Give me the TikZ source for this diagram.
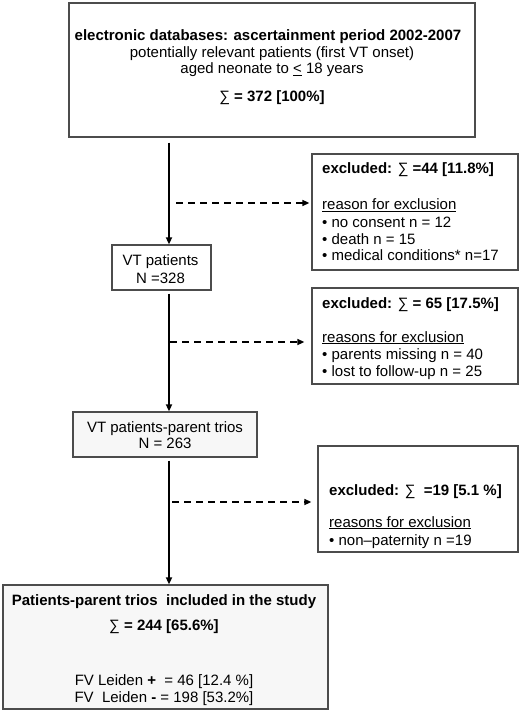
\documentclass[tikz,border=0pt]{standalone}
\usepackage{fontspec}
\setmainfont{Liberation Sans}
\usetikzlibrary{arrows.meta}
\newcommand{\sgm}{{\mdseries ∑}}
\begin{document}
\begin{tikzpicture}[x=1pt,y=-1pt,
  box/.style={draw=black!70,line width=1.3pt,fill=#1,inner sep=0pt},
  box/.default=white,
  txt/.style={inner sep=0pt,font=\fontsize{15}{17}\selectfont},
  mainarr/.style={line width=1.8pt,-{Triangle[length=7pt,width=6pt]}},
  dasharr/.style={line width=1.5pt,dash pattern=on 7pt off 5pt,-{Triangle[length=7pt,width=6pt]}}]
\useasboundingbox (0,0) rectangle (520,711);
% boxes
\node[box, minimum width=406pt, minimum height=134pt] (top) at (272,70) {};
\node[box, minimum width=206pt, minimum height=116pt] (ex1) at (415,212) {};
\node[box, minimum width=206pt, minimum height=96pt] (ex2) at (415,336) {};
\node[box, minimum width=200pt, minimum height=106pt] (ex3) at (418,499) {};
\node[box, minimum width=99pt, minimum height=45pt] (vtp) at (161.5,267.5) {};
\node[box=gray!6, minimum width=184pt, minimum height=45pt] (trio) at (165,434.5) {};
\node[box=gray!6, minimum width=325pt, minimum height=124pt] (fin) at (165.5,647) {};
% top texts
\node[txt, anchor=base] (t1) at (268,41) {\bfseries electronic databases: ascertainment period 2002-2007};
\node[txt, anchor=base] (t2) at (272,58) {potentially relevant patients (first VT onset)};
\node[txt, anchor=base] (t3) at (272,74) {aged neonate to \underline{<} 18 years};
\node[txt, anchor=base] (t4) at (272,102) {\bfseries \sgm\ = 372 [100\%]};
% excluded 1
\node[txt, anchor=base west] (e1a) at (322,174) {\bfseries excluded: \sgm\ =44 [11.8\%]};
\node[txt, anchor=base west] (e1b) at (322,210) {\underline{reason for exclusion}};
\node[txt, anchor=base west] (e1c) at (322,227) {• no consent n = 12};
\node[txt, anchor=base west] (e1d) at (322,244) {• death n = 15};
\node[txt, anchor=base west] (e1e) at (322,260) {• medical conditions* n=17};
% excluded 2
\node[txt, anchor=base west] (e2a) at (322,308) {\bfseries excluded: \sgm\ = 65 [17.5\%]};
\node[txt, anchor=base west] (e2b) at (322,342) {\underline{reasons for exclusion}};
\node[txt, anchor=base west] (e2c) at (322,359) {• parents missing n = 40};
\node[txt, anchor=base west] (e2d) at (322,376) {• lost to follow-up n = 25};
% excluded 3
\node[txt, anchor=base west] (e3a) at (329,495) {\bfseries excluded: \sgm\ \ =19 [5.1 \%]};
\node[txt, anchor=base west] (e3b) at (329,527) {\underline{reasons for exclusion}};
\node[txt, anchor=base west] (e3c) at (329,545) {• non–paternity n =19};
% VT patients
\node[txt, anchor=base] (v1) at (160.5,265) {VT patients};
\node[txt, anchor=base] (v2) at (160.5,283) {N =328};
% trios
\node[txt, anchor=base] (r1) at (165,432) {VT patients-parent trios};
\node[txt, anchor=base] (r2) at (165,448) {N = 263};
% final
\node[txt, anchor=base] (f1) at (164,605) {\bfseries Patients-parent trios\ \ included in the study};
\node[txt, anchor=base] (f2) at (164,630) {\bfseries \sgm\ = 244 [65.6\%]};
\node[txt, anchor=base] (f3) at (164,685) {FV Leiden \textbf{+}\ \ = 46 [12.4 \%]};
\node[txt, anchor=base] (f4) at (164,702) {FV\ \ Leiden \textbf{-} = 198 [53.2\%]};
% connectors
\coordinate (mx) at (169,0);
\coordinate (d1) at (176,203);
\coordinate (d2) at (170,342);
\coordinate (d3) at (172,502);
\draw[mainarr] ([yshift=-5pt]top.south -| mx) -- (vtp.north -| mx);
\draw[mainarr] ([yshift=-3pt]vtp.south -| mx) -- (trio.north -| mx);
\draw[mainarr] ([yshift=-3pt]trio.south -| mx) -- (fin.north -| mx);
\draw[dasharr, shorten >=2pt] (d1) -- (d1 -| ex1.west);
\draw[dasharr, shorten >=7pt] (d2) -- (d2 -| ex2.west);
\draw[dasharr, shorten >=6pt] (d3) -- (d3 -| ex3.west);
\end{tikzpicture}
\end{document}
